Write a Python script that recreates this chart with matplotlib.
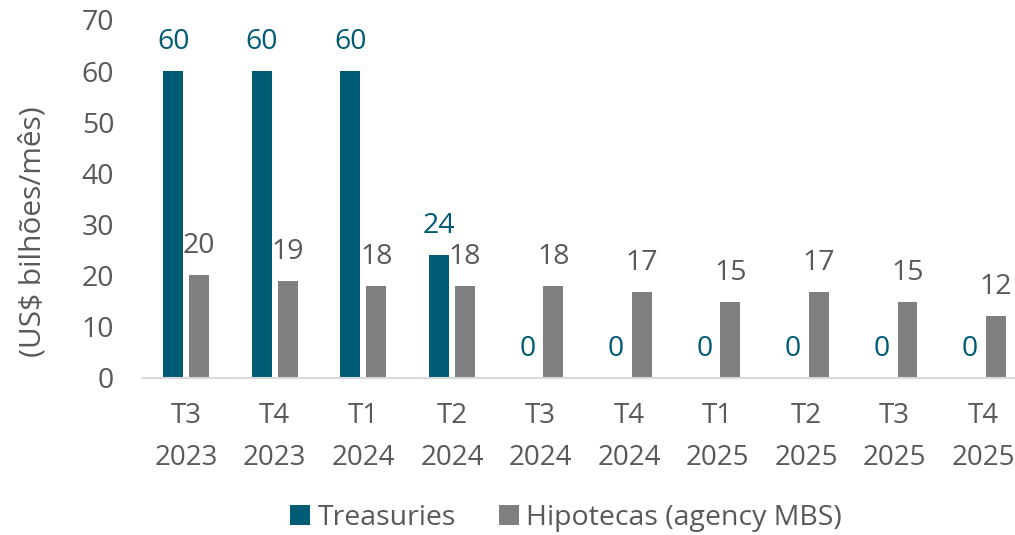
import numpy as np
import matplotlib.pyplot as plt

plt.rcParams['font.family'] = ['Open Sans', 'DejaVu Sans']

quarters = ['T3\n2023', 'T4\n2023', 'T1\n2024', 'T2\n2024', 'T3\n2024',
            'T4\n2024', 'T1\n2025', 'T2\n2025', 'T3\n2025', 'T4\n2025']
treasuries = [60, 60, 60, 24, 0, 0, 0, 0, 0, 0]
mbs = [20.1, 19.0, 18.0, 18.0, 18.0, 16.8, 14.8, 16.8, 14.8, 12.1]

teal = '#005B74'
grey = '#7F7F7F'
text_grey = '#595959'
fs = 20.5

fig = plt.figure(figsize=(10.15, 5.35), dpi=100)
ax = fig.add_axes([142 / 1015, 1 - 378 / 535, 1 - 142 / 1015, (378 - 20) / 535])

x = np.arange(len(quarters))
width = 0.225
off = 0.146
b1 = ax.bar(x - off, treasuries, width, color=teal, label='Treasuries')
b2 = ax.bar(x + off, mbs, width, color=grey, label='Hipotecas (agency MBS)')

for bars, vals, c in [(b1, treasuries, teal), (b2, mbs, text_grey)]:
    for b, v in zip(bars, vals):
        ax.annotate(f'{v:.0f}', (b.get_x() + b.get_width() / 2, v),
                    xytext=(0, 21), textcoords='offset points',
                    ha='center', va='center', fontsize=fs, color=c)

ax.set_ylim(0, 70)
ax.set_xlim(-0.5, 9.36)
ax.set_yticks(range(0, 71, 10))
ax.set_xticks(x)
ax.set_xticklabels(quarters, linespacing=1.7, fontsize=20)
ax.tick_params(axis='both', length=0, colors=text_grey)
ax.tick_params(axis='y', pad=20, labelsize=fs)
ax.tick_params(axis='x', pad=17)

for s in ['top', 'right', 'left']:
    ax.spines[s].set_visible(False)
ax.spines['bottom'].set_color('#D9D9D9')
ax.spines['bottom'].set_linewidth(1.5)

ax.set_ylabel('(US$ bilhões/mês)', fontsize=21.5, color=text_grey)
ax.yaxis.set_label_coords(-0.108, 0.41)

fig.legend(loc='lower center', bbox_to_anchor=(0.5576, -0.043), ncol=2,
           frameon=False, fontsize=fs, labelcolor=text_grey,
           handlelength=0.7, handleheight=0.7, handletextpad=0.25,
           columnspacing=1.5)

fig.savefig('out.png', dpi=100)
